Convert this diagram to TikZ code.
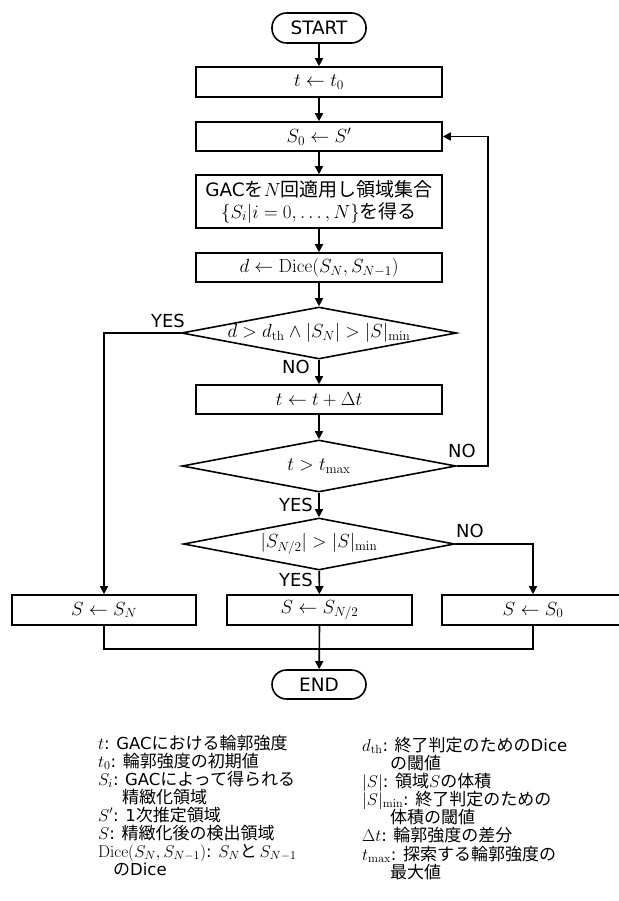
\RequirePackage{fix-cm}
\documentclass[tikz,border=0pt]{standalone}
\usepackage[no-math]{fontspec}
\setmainfont{DejaVu Sans}[Scale=0.97]
\newfontfamily\jpfont{Noto Sans CJK JP}
\newcommand\jpt[1]{{\jpfont #1}}
\newcommand\lsep{:\hspace{0.4em}}
\usetikzlibrary{shapes.geometric,arrows.meta}
\begin{document}
\begin{tikzpicture}[x=1pt,y=-1pt,
  every node/.style={font=\fontsize{19}{22}\selectfont, inner sep=0pt},
  box/.style={draw, line width=1.6pt, minimum width=246pt, minimum height=30pt, inner sep=2pt},
  term/.style={draw, line width=1.6pt, rounded corners=14.5pt, minimum width=94pt, minimum height=30pt},
  dia/.style={draw, diamond, line width=1.6pt, inner sep=0pt},
  lab/.style={font=\fontsize{18.5}{20}\selectfont},
  leg/.style={anchor=base west, font=\fontsize{17}{18}\selectfont},
  conn/.style={line width=1.6pt, -{Triangle[length=8pt,width=8pt]}},
  wire/.style={line width=1.6pt}
]
\useasboundingbox (0,0) rectangle (618,901);
% flow nodes
\node[term] (start) at (319,28) {START};
\node[box] (b1) at (319,82) {$t \leftarrow t_0$};
\node[box, minimum height=29pt] (b2) at (319,136.5) {$S_0 \leftarrow S'$};
\node[box, minimum height=53pt, align=center] (b3) at (319,201.5)
  {GAC\jpt{を}$N$\jpt{回適用し領域集合}\\$\{S_i|i=0,\ldots,N\}$\jpt{を得る}};
\node[box, minimum height=29pt] (b4) at (319,267.5) {$d \leftarrow \mathrm{Dice}(S_N, S_{N-1})$};
\node[dia, minimum width=275pt, minimum height=52pt] (d1) at (319,333) {};
\node at (d1.center) {$d > d_{\mathrm{th}} \wedge |S_N| > |S|_{\mathrm{min}}$};
\node[box, minimum height=29pt] (b5) at (319,399.5) {$t \leftarrow t + \Delta t$};
\node[dia, minimum width=274pt, minimum height=52pt] (d2) at (319,466) {};
\node at (d2.center) {$t > t_{\mathrm{max}}$};
\node[dia, minimum width=271pt, minimum height=52pt] (d3) at (319,544) {};
\node at (d3.center) {$\bigl|S_{N/2}\bigr| > |S|_{\mathrm{min}}$};
\node[box, minimum width=184pt] (bl) at (104,610) {$S \leftarrow S_N$};
\node[box, minimum width=185pt] (bm) at (319.5,610) {$S \leftarrow S_{N/2}$};
\node[box, minimum width=182pt] (br) at (533,610) {$S \leftarrow S_0$};
\node[term, minimum height=29pt] (end) at (319,684.5) {END};
\coordinate (lp) at (488,136.5);
\coordinate (mg) at (319,649);
% connectors
\draw[conn] (start) -- (b1);
\draw[conn] (b1) -- (b2);
\draw[conn] (b2) -- (b3);
\draw[conn] (b3) -- (b4);
\draw[conn] (b4) -- (d1);
\draw[conn] (d1) -- (b5);
\draw[conn] (b5) -- (d2);
\draw[conn] (d2) -- (d3);
\draw[conn] (d3) -- (bm);
\draw[conn] (d1.west) -| (bl.north);
\draw[conn] (d2.east) -- (d2.east -| lp) -- (lp) -- (b2.east);
\draw[conn] (d3.east) -| (br.north);
\draw[wire] (bl.south) |- (mg) -| (br.south);
\draw[conn] (bm.south) -- (end);
% branch labels
\node[lab] at (168,321) {YES};
\node[lab] at (296,367) {NO};
\node[lab] at (462,451) {NO};
\node[lab] at (296,505) {YES};
\node[lab] at (470,531) {NO};
\node[lab] at (296,580) {YES};
% legend left
\node[leg] at (98,749) {$t$\lsep GAC\jpt{における輪郭強度}};
\node[leg] at (98,767) {$t_0$\lsep\jpt{輪郭強度の初期値}};
\node[leg] at (98,785) {$S_i$\lsep GAC\jpt{によって得られる}};
\node[leg] at (122,803) {\jpt{精緻化領域}};
\node[leg] at (98,821) {$S'$\lsep 1\jpt{次推定領域}};
\node[leg] at (98,839) {$S$\lsep\jpt{精緻化後の検出領域}};
\node[leg] at (98,857) {$\mathrm{Dice}(S_N,S_{N-1})$\lsep$S_N$\jpt{と}\,$S_{N-1}$};
\node[leg] at (113,875) {\jpt{の}Dice};
% legend right
\node[leg] at (362,751) {$d_{\mathrm{th}}$\lsep\jpt{終了判定のための}Dice};
\node[leg] at (390,769) {\jpt{の閾値}};
\node[leg] at (362,787) {$|S|$\lsep\jpt{領域}$S$\jpt{の体積}};
\node[leg] at (362,805) {$|S|_{\mathrm{min}}$\lsep\jpt{終了判定のための}};
\node[leg] at (390,823) {\jpt{体積の閾値}};
\node[leg] at (362,841) {$\Delta t$\lsep\jpt{輪郭強度の差分}};
\node[leg] at (362,860) {$t_{\mathrm{max}}$\lsep\jpt{探索する輪郭強度の}};
\node[leg] at (390,878) {\jpt{最大値}};
\end{tikzpicture}
\end{document}
